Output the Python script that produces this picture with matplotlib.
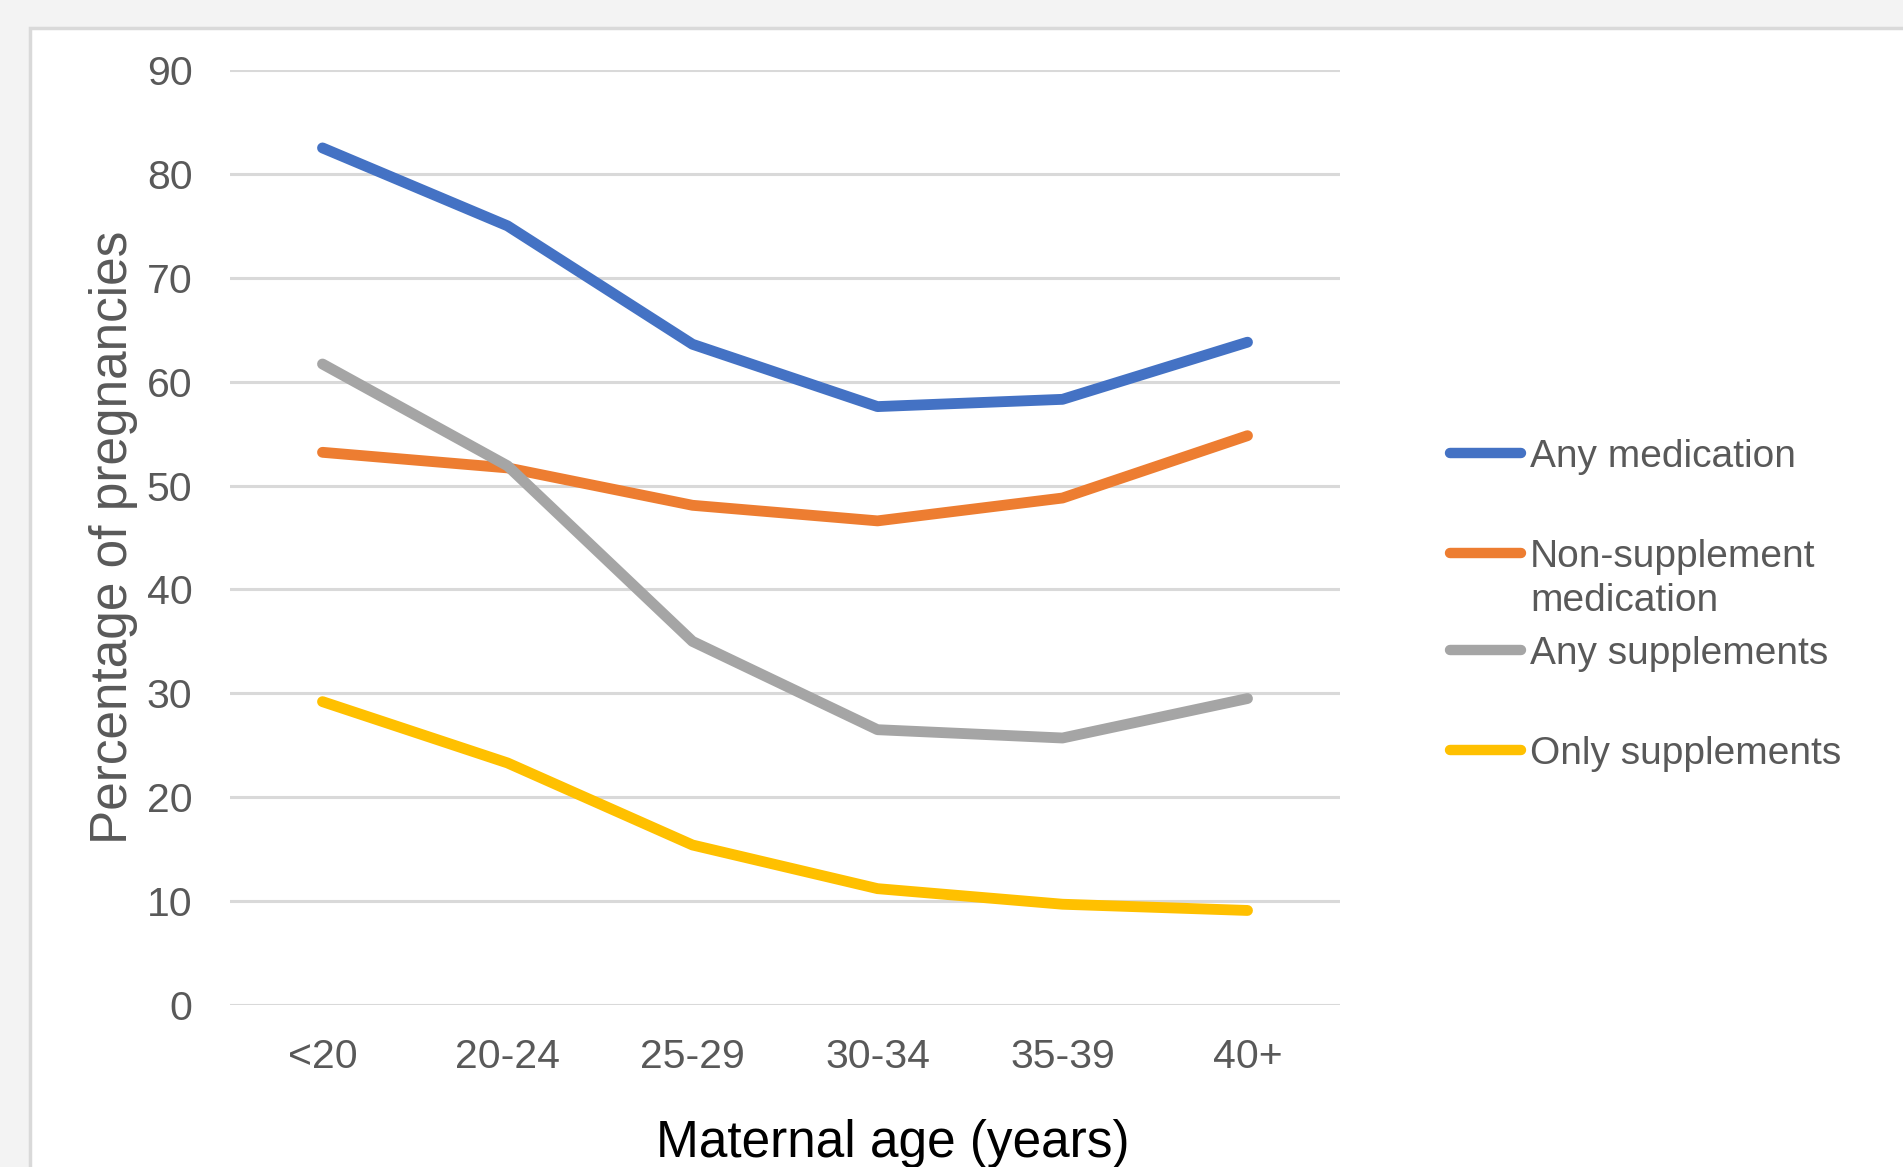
import matplotlib
matplotlib.use("Agg")
import matplotlib.pyplot as plt
from matplotlib.lines import Line2D
from matplotlib.patches import Rectangle

plt.rcParams["font.family"] = ["Liberation Sans", "DejaVu Sans"]

TEXT = "#595959"
GRID = "#d9d9d9"

# ── Datos ──────────────────────────────────────────────────────────────
age_groups = ["<20", "20-24", "25-29", "30-34", "35-39", "40+"]
any_medication = [82.5, 75.0, 63.6, 57.6, 58.3, 63.8]
non_supplement = [53.2, 51.7, 48.1, 46.6, 48.8, 54.8]
any_supplements = [61.7, 51.9, 35.0, 26.5, 25.7, 29.5]
only_supplements = [29.2, 23.3, 15.4, 11.2, 9.7, 9.1]

series_names = ["Any medication", "Non-supplement\nmedication",
                "Any supplements", "Only supplements"]
series_colors = ["#4472C4", "#ED7D31", "#A5A5A5", "#FFC000"]
series_values = [any_medication, non_supplement, any_supplements, only_supplements]

W, H = 1903, 1167
fig = plt.figure(figsize=(W / 100, H / 100), dpi=100, facecolor="#f3f3f3")

# panel blanco con borde
fig.add_artist(Rectangle((30 / W, -0.1), 1.2, (H - 28) / H + 0.1,
                         transform=fig.transFigure, facecolor="white",
                         edgecolor=GRID, linewidth=2.5, zorder=0))

ax = fig.add_axes([230 / W, (H - 1005) / H, 1110 / W, 935 / H])
ax.set_facecolor("none")

x = list(range(len(age_groups)))
for vals, color in zip(series_values, series_colors):
    ax.plot(x, vals, color=color, linewidth=7.8,
            solid_capstyle="round", solid_joinstyle="round", zorder=3)

ax.set_xlim(-0.5, len(age_groups) - 0.5)
ax.set_ylim(0, 90)
ax.set_yticks(range(0, 91, 10))
ax.set_xticks(x)
ax.set_xticklabels(age_groups)
ax.grid(axis="y", color=GRID, linewidth=2.2)
ax.set_axisbelow(True)
for s in ax.spines.values():
    s.set_visible(False)
ax.tick_params(axis="both", length=0, labelsize=29.5, labelcolor=TEXT)
ax.tick_params(axis="y", pad=27)
ax.tick_params(axis="x", pad=24)

ax.set_xlabel("Maternal age (years)", fontsize=37, color="black",
              labelpad=31, x=0.597)
ax.set_ylabel("Percentage of pregnancies", fontsize=37, color=TEXT, labelpad=6.5)

# ── Leyenda (estilo Excel) ─────────────────────────────────────────────
handle_y = [453, 553, 650, 750]
for name, color, hy in zip(series_names, series_colors, handle_y):
    fy = (H - hy) / H
    fig.add_artist(Line2D([1450 / W, 1521 / W], [fy, fy], color=color,
                          linewidth=7.5, solid_capstyle="round",
                          transform=fig.transFigure))
    fig.text(1530 / W, (H - hy + 14) / H, name, fontsize=28, color=TEXT,
             ha="left", va="top", linespacing=1.28)

fig.savefig("out.png", dpi=100, facecolor=fig.get_facecolor())
